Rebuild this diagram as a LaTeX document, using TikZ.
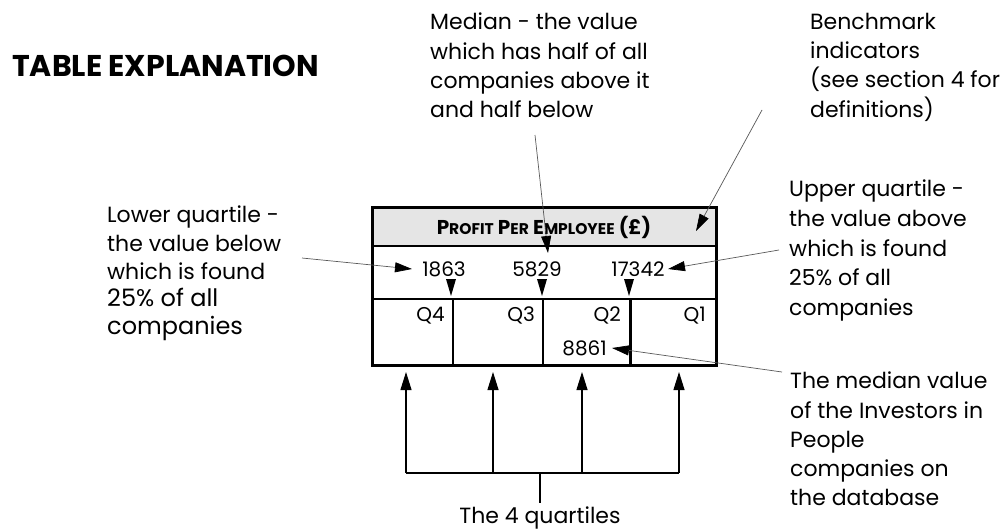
\documentclass[tikz,border=0pt]{standalone}
\usepackage{fontspec}
\setmainfont{Poppins}
\usetikzlibrary{arrows.meta}

% header text in bold small caps made by hand
\newcommand{\hcap}[1]{{\fontsize{15.5}{18}\selectfont #1}}

\begin{document}
\begin{tikzpicture}[x=1pt,y=-1pt,
  lbl/.style={font=\fontsize{22}{29.2}\selectfont, align=left, anchor=north west, inner sep=0pt},
  lblbig/.style={font=\fontsize{24}{28}\selectfont, align=left, anchor=north west, inner sep=0pt},
  num/.style={font=\fontsize{20}{22}\selectfont, inner sep=0pt},
  lead/.style={draw=black!65, line width=0.7pt, -{Triangle[length=17pt,width=10pt,color=black]}},
  qarrow/.style={draw=black, line width=1.1pt, -{Triangle[length=18pt,width=11pt]}},
  thin/.style={line width=1.2pt},
  thick/.style={line width=3pt},
  downtip/.style={fill=black}
]
\useasboundingbox (0,0) rectangle (1006,530);

% title
\node[font=\fontsize{30}{33}\selectfont\bfseries, anchor=base west, inner sep=0pt] (title) at (12,76) {TABLE EXPLANATION};

% table frame
\fill[black!10] (372,207) rectangle (716,246);
\draw[thin] (372,246) -- (716,246);
\draw[thin] (372,299) -- (716,299);
\draw[thin] (453,299) -- (453,365);
\draw[thin] (543,299) -- (543,365);
\draw[thick] (630,299) -- (630,365);
\draw[thick] (372,207) rectangle (716,365);

% header
\node[font=\fontsize{20}{22}\selectfont\bfseries, anchor=base, inner sep=0pt] (head) at (544,234)
  {P\hcap{ROFIT} P\hcap{ER} E\hcap{MPLOYEE} (£)};

% quartile values
\node[num, anchor=base] (v1863) at (444,276) {1863};
\node[num, anchor=base] (v5829) at (537,276) {5829};
\node[num, anchor=base] (v17342) at (638,276) {17342};
\node[num, anchor=base east] (v8861) at (607,355) {8861};

% quartile labels
\node[num, anchor=base east] (q4) at (445,321) {Q4};
\node[num, anchor=base east] (q3) at (535,321) {Q3};
\node[num, anchor=base east] (q2) at (621,321) {Q2};
\node[num, anchor=base east] (q1) at (706,321) {Q1};

% boundary markers between quartiles
\fill[downtip] (446,279) -- (456,279) -- (451,296) -- cycle;
\fill[downtip] (537,279) -- (547,279) -- (542,296) -- cycle;
\fill[downtip] (624,279) -- (634,279) -- (629,296) -- cycle;

% explanatory texts (north = first baseline minus ascender)
\node[lbl] (median) at (430,13) {Median - the value\\which has half of all\\companies above it\\and half below};
\node[lbl] (bench) at (810,13) {Benchmark\\indicators\\(see section 4 for\\definitions)};
\node[lbl, font=\fontsize{22}{28.2}\selectfont] (lower) at (107,206) {Lower quartile -\\the value below\\which is found};
\node[lblbig] (lower2) at (107,288) {25\% of all\\companies};
\node[lbl, font=\fontsize{22}{29.6}\selectfont] (upper) at (789,180) {Upper quartile -\\the value above\\which is found\\25\% of all\\companies};
\node[lbl] (iip) at (790,372) {The median value\\of the Investors in\\People\\companies on\\the database};
\node[font=\fontsize{22}{24}\selectfont, anchor=base, inner sep=0pt] (quart) at (540,523) {The 4 quartiles};

% leader line ends
\coordinate (lowerS) at (302,258);
\coordinate (lowerT) at (412,269);
\coordinate (medS) at (535,135);
\coordinate (medT) at (548,253);
\coordinate (benchS) at (762,110);
\coordinate (benchT) at (696,231);
\coordinate (upperS) at (779,250);
\coordinate (upperT) at (668,269);
\coordinate (iipS) at (782,372);
\coordinate (iipT) at (612,348);

\draw[lead] (lowerS) -- (lowerT);
\draw[lead] (medS) -- (medT);
\draw[lead] (benchS) -- (benchT);
\draw[lead] (upperS) -- (upperT);
\draw[lead] (iipS) -- (iipT);

% the four quartile pointers
\coordinate (qa) at (406,473);
\coordinate (qb) at (493,473);
\coordinate (qc) at (582,473);
\coordinate (qd) at (679,473);
\coordinate (qm) at (540,473);
\coordinate (qs) at (540,503);
\draw[qarrow] (qa) -- (406,372);
\draw[qarrow] (qb) -- (493,372);
\draw[qarrow] (qc) -- (582,372);
\draw[qarrow] (qd) -- (679,372);
\draw[line width=1.1pt] (qa) -- (qd);
\draw[line width=1.1pt] (qm) -- (qs);
\end{tikzpicture}
\end{document}
